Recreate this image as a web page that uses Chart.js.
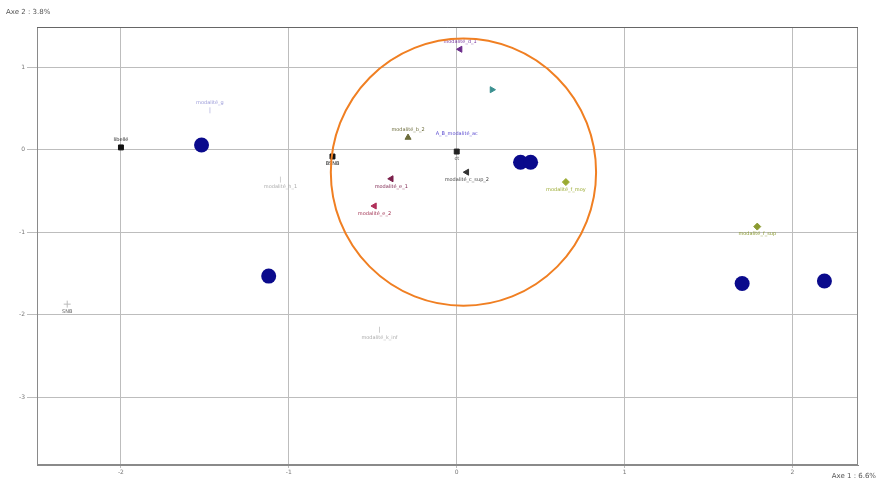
<!DOCTYPE html>
<html>
<head>
<meta charset="utf-8">
<script src="https://cdn.jsdelivr.net/npm/chart.js@4.4.1/dist/chart.umd.min.js"></script>
<style>
  html, body { margin: 0; padding: 0; background: #fff; }
  #wrap { width: 878px; height: 480px; }
</style>
</head>
<body>
<div id="wrap"><canvas id="carte"></canvas></div>
<script>
// ----- titres des axes -----
const AXE1_TITRE = "Axe 1 : 6.6%";
const AXE2_TITRE = "Axe 2 : 3.8%";

// ----- graduations -----
const axe1Ticks = [-2, -1, 0, 1, 2];
const axe2Ticks = [1, 0, -1, -2, -3];

// ----- individus (gros points bleus) -----
const indivX = [-1.52, -1.12, 0.38, 0.44, 1.70, 2.19];
const indivY = [0.06, -1.53, -0.15, -0.15, -1.62, -1.59];

// ----- modalites (marqueurs + etiquettes) -----
const modNoms = [
  "libellé", "BSNB", "ct", "modalité_b_2", "A_B_modalité_ac",
  "modalité_c_sup_2", "", "modalité_d_1", "modalité_e_1",
  "modalité_e_2", "modalité_f_moy", "modalité_f_sup",
  "modalité_g", "modalité_h_1", "SNB", "modalité_k_inf"
];
const modX = [-2.00, -0.74, 0.00, -0.29, 0.00, 0.06, 0.21, 0.02, -0.39, -0.49, 0.65, 1.79, -1.47, -1.05, -2.32, -0.46];
const modY = [0.03, -0.08, -0.02, 0.15, 0.10, -0.27, 0.73, 1.22, -0.35, -0.68, -0.39, -0.93, 0.48, -0.36, -1.87, -2.18];
const modCouleurs = [
  "#111111", "#111111", "#222222", "#6b6b3a", "rgba(0,0,0,0)",
  "#333333", "#3a8f8f", "#6a2a8a", "#7a1f4a", "#b0305a",
  "#9aaa30", "#8a9a30", "#c8c8e8", "#d0d0d0", "#bbbbbb", "#cccccc"
];
const modTexteCouleurs = [
  "#222", "#222", "#333", "#6b6b3a", "#5a4ad0",
  "#444", "#3a8f8f", "#7a3aa0", "#7a1f4a", "#a03050",
  "#9aaa30", "#8a9a30", "#9a9ad8", "#aaaaaa", "#666", "#aaaaaa"
];
const modFormes = [
  "rect", "rect", "rect", "triangle", "circle",
  "triangle", "triangle", "triangle", "triangle", "triangle",
  "rectRot", "rectRot", "line", "line", "cross", "line"
];
const modRotation = [0, 0, 0, 0, 0, -90, 90, -90, -90, -90, 0, 0, 90, 90, 0, 90];
const modCote = ["haut", "bas", "bas", "haut", "haut", "bas", "haut", "haut", "bas", "bas", "bas", "bas", "haut", "bas", "bas", "bas"];

// ----- cercle (centre et rayons en unites des axes) -----
const cercleCentre = [0.04, -0.27];
const cercleRayon = [0.79, 1.62];

const ctx = document.getElementById("carte").getContext("2d");

// etiquettes des modalites + cercle orange + cadre + titres d'axes
const decor = {
  id: "decor",
  afterDatasetsDraw(chart) {
    const c = chart.ctx;
    const sx = chart.scales.x, sy = chart.scales.y;
    const a = chart.chartArea;
    c.save();
    // cadre
    c.strokeStyle = "#8a8a8a";
    c.lineWidth = 1;
    c.strokeRect(a.left + 0.5, a.top + 0.5, a.right - a.left - 1, a.bottom - a.top - 1);
    c.strokeStyle = "#666";
    c.beginPath();
    c.moveTo(a.left, a.top + 0.5);
    c.lineTo(a.right, a.top + 0.5);
    c.stroke();
    // etiquettes
    c.font = "5px 'DejaVu Sans'";
    c.textAlign = "center";
    modNoms.forEach((nom, i) => {
      if (!nom) return;
      const px = sx.getPixelForValue(modX[i]);
      const py = sy.getPixelForValue(modY[i]);
      c.fillStyle = modTexteCouleurs[i];
      if (modCote[i] === "haut") {
        c.textBaseline = "bottom";
        c.fillText(nom, px, py - 5);
      } else {
        c.textBaseline = "top";
        c.fillText(nom, px, py + 5);
      }
    });
    // cercle
    const cx = sx.getPixelForValue(cercleCentre[0]);
    const cy = sy.getPixelForValue(cercleCentre[1]);
    const rx = Math.abs(sx.getPixelForValue(cercleCentre[0] + cercleRayon[0]) - cx);
    const ry = Math.abs(sy.getPixelForValue(cercleCentre[1] + cercleRayon[1]) - cy);
    c.beginPath();
    c.ellipse(cx, cy, rx, ry, 0, 0, Math.PI * 2);
    c.strokeStyle = "#f07f22";
    c.lineWidth = 2;
    c.stroke();
    // titres
    c.font = "7px 'DejaVu Sans'";
    c.fillStyle = "#555";
    c.textAlign = "left";
    c.textBaseline = "middle";
    c.fillText(AXE2_TITRE, 6, 12);
    c.textAlign = "right";
    c.fillText(AXE1_TITRE, 876, 476);
    c.restore();
  }
};

new Chart(ctx, {
  type: "scatter",
  data: {
    datasets: [
      {
        label: "modalités",
        data: modX.map((x, i) => ({ x: x, y: modY[i] })),
        pointStyle: modFormes,
        rotation: modRotation,
        pointRadius: modFormes.map(f => f === "line" ? 3 : 3.5),
        backgroundColor: modCouleurs,
        borderColor: modCouleurs,
        borderWidth: 1
      },
      {
        label: "individus",
        data: indivX.map((x, i) => ({ x: x, y: indivY[i] })),
        pointStyle: "circle",
        pointRadius: 7.5,
        backgroundColor: "#0a0a8c",
        borderColor: "#0a0a8c",
        borderWidth: 0
      }
    ]
  },
  options: {
    responsive: true,
    maintainAspectRatio: false,
    animation: false,
    layout: { padding: { top: 27, right: 20, left: 0, bottom: 0 } },
    plugins: { legend: { display: false }, tooltip: { enabled: false } },
    scales: {
      x: {
        type: "linear",
        min: -2.5,
        max: 2.39,
        afterBuildTicks: axis => { axis.ticks = axe1Ticks.map(v => ({ value: v })); },
        afterFit: axis => { axis.height = 15; },
        grid: { color: "#bdbdbd", lineWidth: 1, drawTicks: true, tickLength: 3 },
        border: { color: "#8a8a8a" },
        ticks: { font: { size: 6, family: "DejaVu Sans" }, color: "#777", padding: 1, maxRotation: 0 }
      },
      y: {
        type: "linear",
        min: -3.82,
        max: 1.49,
        afterBuildTicks: axis => { axis.ticks = axe2Ticks.map(v => ({ value: v })); },
        afterFit: axis => { axis.width = 37; },
        grid: { color: "#bdbdbd", lineWidth: 1, drawTicks: true, tickLength: 10 },
        border: { color: "#8a8a8a" },
        ticks: { font: { size: 6, family: "DejaVu Sans" }, color: "#777", padding: 2 }
      }
    }
  },
  plugins: [decor]
});
</script>
</body>
</html>
